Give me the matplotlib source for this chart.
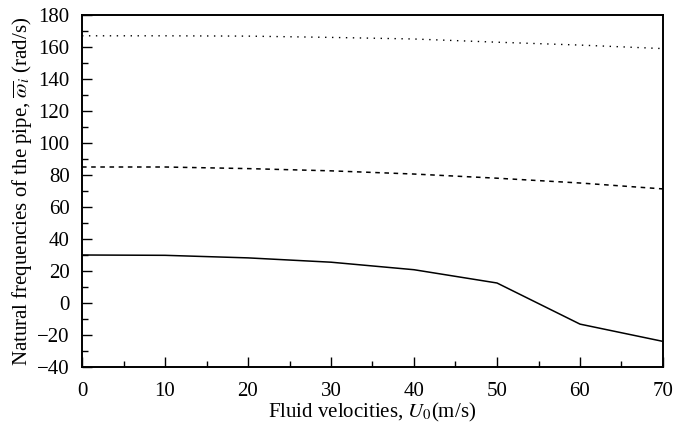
import matplotlib
matplotlib.use('Agg')
import matplotlib.pyplot as plt
from matplotlib.ticker import MultipleLocator

# Valori
velocities = [0, 10, 20, 30, 40, 50, 60, 70]
mode1 = [30, 29.8, 28.2, 25.5, 20.8, 12.5, -13.2, -24]
mode2 = [85, 85, 84, 82.6, 80.6, 78, 75, 71.3]
mode3 = [167, 167, 166.8, 166, 165, 163, 161.2, 159]

plt.rcParams['font.family'] = 'Liberation Serif'
plt.rcParams['mathtext.fontset'] = 'stix'

fig = plt.figure(figsize=(6.77, 4.30), dpi=100)
ax = fig.add_axes([82 / 677, 1 - 367 / 430, 581 / 677, 352 / 430])

ax.plot(velocities, mode1, color='black', linestyle='-', linewidth=1.1)
ax.plot(velocities, mode2, color='black', linestyle=(0, (3, 3)), linewidth=1.1)
ax.plot(velocities, mode3, color='black', linestyle=(0, (1, 4)), linewidth=1.0)

ax.set_xlim(0, 70)
ax.set_ylim(-40, 180)
ax.xaxis.set_major_locator(MultipleLocator(10))
ax.xaxis.set_minor_locator(MultipleLocator(5))
ax.yaxis.set_major_locator(MultipleLocator(20))
ax.yaxis.set_minor_locator(MultipleLocator(10))
ax.tick_params(which='both', direction='in', top=False, right=False, labelsize=15)
ax.tick_params(which='major', length=7, width=1)
ax.tick_params(which='minor', length=4, width=1)
ax.tick_params(axis='x', which='major', pad=11)
ax.tick_params(axis='y', which='major', pad=9)
for s in ax.spines.values():
    s.set_linewidth(1.4)

ax.set_xlabel('Fluid velocities, $U_0$(m/s)', fontsize=15, labelpad=0)
ax.set_ylabel(r'Natural frequencies of the pipe, $\overline{\omega}_i$ (rad/s)',
              fontsize=15, labelpad=2)

fig.savefig('out.png', dpi=100)
